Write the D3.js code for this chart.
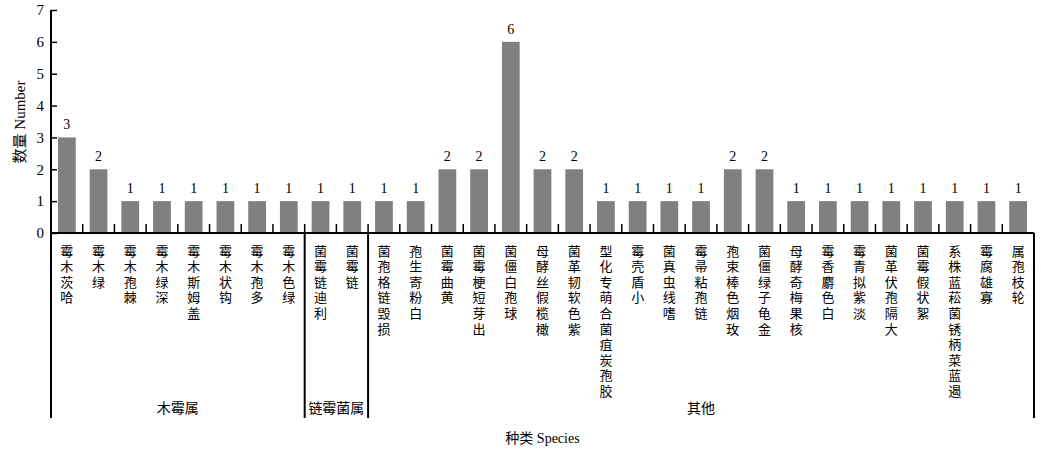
<!DOCTYPE html>
<html>
<head>
<meta charset="utf-8">
<script src="https://cdn.jsdelivr.net/npm/d3@7"></script>
<style>
  body { margin: 0; background: #fff; }
  svg text { font-family: "Liberation Serif", "Noto Sans CJK SC", serif; fill: #000; }
</style>
</head>
<body>
<div id="chart"></div>
<script>
// datos
var categories = [
  "哈茨木霉", "绿木霉", "棘孢木霉", "深绿木霉", "盖姆斯木霉", "钩状木霉", "多孢木霉", "绿色木霉",
  "利迪链霉菌", "链霉菌",
  "损毁链格孢菌", "白粉寄生孢", "黄曲霉菌", "出芽短梗霉菌", "球孢白僵菌", "橄榄假丝酵母",
  "紫色软韧革菌", "胶孢炭疽菌合萌专化型", "小盾壳霉", "嗜线虫真菌", "链孢粘帚霉",
  "玫烟色棒束孢", "金龟子绿僵菌", "核果梅奇酵母", "白色麝香霉", "淡紫拟青霉",
  "大隔孢伏革菌", "絮状假霉菌", "遏蓝菜柄锈菌菘蓝株系", "寡雄腐霉", "轮枝孢属"
];
var values = [3, 2, 1, 1, 1, 1, 1, 1, 1, 1, 1, 1, 2, 2, 6, 2, 2, 1, 1, 1, 1, 2, 2, 1, 1, 1, 1, 1, 1, 1, 1];
var groupNames = ["木霉属", "链霉菌属", "其他"];
var groupCounts = [8, 2, 21];
var yTicks = [0, 1, 2, 3, 4, 5, 6, 7];

var width = 1041, height = 452;
// bordes de la grafica
var plotLeft = 51, plotRight = 1034, plotTop = 10, plotBase = 233, plotBottom = 418;

var svg = d3.select("#chart").append("svg")
  .attr("width", width)
  .attr("height", height);

// escalas
var x = d3.scaleBand()
  .domain(categories)
  .range([plotLeft, plotRight])
  .paddingInner(0.44)
  .paddingOuter(0.22);

var y = d3.scaleLinear()
  .domain([0, 7])
  .range([plotBase, plotTop]);

var gap = (x.step() - x.bandwidth()) / 2;

// barras
svg.selectAll("rect.bar")
  .data(categories)
  .enter()
  .append("rect")
  .attr("class", "bar")
  .attr("x", function(d) { return x(d); })
  .attr("y", function(d, i) { return y(values[i]); })
  .attr("width", x.bandwidth())
  .attr("height", function(d, i) { return y(0) - y(values[i]); })
  .attr("fill", "#808080");

// etiquetas de valor
svg.selectAll("text.val")
  .data(categories)
  .enter()
  .append("text")
  .attr("class", "val")
  .attr("x", function(d) { return x(d) + x.bandwidth() / 2; })
  .attr("y", function(d, i) { return y(values[i]) - 8; })
  .attr("text-anchor", "middle")
  .attr("font-size", 14)
  .text(function(d, i) { return values[i]; });

// eje Y
var yAxis = d3.axisLeft(y)
  .tickValues(yTicks)
  .tickFormat(d3.format("d"))
  .tickSizeInner(-6)
  .tickSizeOuter(0)
  .tickPadding(7);

var gy = svg.append("g")
  .attr("transform", "translate(" + plotLeft + ",0)")
  .call(yAxis);
gy.select(".domain").remove();
gy.selectAll(".tick line").attr("stroke", "#000").attr("stroke-width", 1.5);
gy.selectAll(".tick text")
  .attr("font-size", 15)
  .attr("font-family", "Liberation Serif");

svg.append("line")
  .attr("x1", plotLeft).attr("x2", plotLeft)
  .attr("y1", y(7)).attr("y2", plotBottom)
  .attr("stroke", "#000").attr("stroke-width", 2);

// eje X
svg.append("line")
  .attr("x1", plotLeft).attr("x2", plotRight)
  .attr("y1", plotBase).attr("y2", plotBase)
  .attr("stroke", "#000").attr("stroke-width", 2);

// marcas entre categorias
svg.selectAll("line.ctick")
  .data(categories.slice(1))
  .enter()
  .append("line")
  .attr("class", "ctick")
  .attr("x1", function(d) { return x(d) - gap; })
  .attr("x2", function(d) { return x(d) - gap; })
  .attr("y1", plotBase)
  .attr("y2", plotBase - 9)
  .attr("stroke", "#000")
  .attr("stroke-width", 1.5);

// nombres de categorias (vertical, de abajo hacia arriba)
svg.selectAll("text.cat")
  .data(categories)
  .enter()
  .append("text")
  .attr("class", "cat")
  .attr("transform", function(d) {
    return "translate(" + (x(d) + x.bandwidth() / 2) + "," + (plotBase + 7) + ")rotate(-90)";
  })
  .attr("text-anchor", "end")
  .attr("rotate", 90)
  .attr("dy", "-0.5em")
  .attr("font-size", 13)
  .attr("letter-spacing", 2.6)
  .style("font-family", "Noto Sans CJK SC")
  .text(function(d) { return d; });

// grupos
var start = 0;
groupNames.forEach(function(g, k) {
  var first = categories[start];
  var last = categories[start + groupCounts[k] - 1];
  var x0 = x(first) - gap;
  var x1 = x(last) + x.bandwidth() + gap;
  svg.append("line")
    .attr("x1", x1).attr("x2", x1)
    .attr("y1", plotBase).attr("y2", plotBottom)
    .attr("stroke", "#000").attr("stroke-width", 2);
  svg.append("text")
    .attr("x", (x0 + x1) / 2)
    .attr("y", 413)
    .attr("text-anchor", "middle")
    .attr("font-size", 14)
    .style("font-family", "Noto Sans CJK SC")
    .text(g);
  start += groupCounts[k];
});

// titulos
svg.append("text")
  .attr("x", (plotLeft + plotRight) / 2)
  .attr("y", 443)
  .attr("text-anchor", "middle")
  .attr("font-size", 14)
  .text("种类 Species");

svg.append("text")
  .attr("transform", "translate(20,122)rotate(-90)")
  .attr("text-anchor", "middle")
  .attr("dy", "0.35em")
  .attr("font-size", 15)
  .text("数量 Number");
</script>
</body>
</html>
